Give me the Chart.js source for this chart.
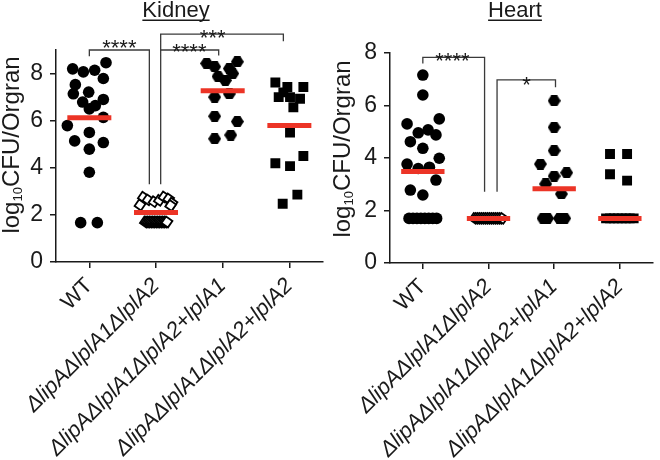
<!DOCTYPE html>
<html>
<head>
<meta charset="utf-8">
<script src="https://cdn.jsdelivr.net/npm/chart.js@4"></script>
<style>
    html, body { margin: 0; padding: 0; background: #fff; }
    #wrap { position: relative; width: 660px; height: 460px; }
    canvas { position: absolute; top: 0; }
    #kidneyChart { left: 0; }
    #heartChart { left: 330px; }
</style>
</head>
<body>
<div id="wrap">
    <canvas id="kidneyChart" width="330" height="460"></canvas>
    <canvas id="heartChart" width="330" height="460"></canvas>
</div>
<script>
// Strains on the x axis
const categories = ['WT', 'ΔlipAΔlplA1ΔlplA2', 'ΔlipAΔlplA1ΔlplA2+lplA1', 'ΔlipAΔlplA1ΔlplA2+lplA2'];
const yTicks = [0, 2, 4, 6, 8];

// Kidney, log10 CFU per organ (jitter = horizontal spread inside a column)
const kidneyWT = [8.2, 8.07, 8.14, 8.46, 7.79, 7.53, 7.21, 7.14, 6.79, 6.9, 6.64, 6.5, 6.14, 5.79, 5.5, 5.14, 5.07, 4.79, 3.81, 1.67, 1.67];
const kidneyWTJitter = [-0.25, -0.09, 0.08, 0.25, 0.21, -0.21, -0.01, -0.24, -0.1, 0.21, 0.09, 0, 0.21, -0.33, 0, -0.22, 0.21, 0, 0, -0.13, 0.12];
const kidneyMutant = [1.7, 1.7, 1.7, 1.7, 1.7, 1.7, 1.7, 1.7, 1.7, 1.7, 1.7, 1.7, 1.7, 1.7, 2.75, 2.64, 2.56, 2.62, 2.76, 2.68, 2.5, 2.42, 2.4];
const kidneyMutantJitter = [-0.16, -0.135, -0.11, -0.085, -0.06, -0.035, -0.01, 0.015, 0.04, 0.065, 0.09, 0.115, 0.14, 0.165, -0.19, -0.12, -0.03, 0.05, 0.12, 0.19, 0.24, -0.24, 0.22];
const kidneyComp1 = [8.43, 8.29, 8.21, 8.5, 8.0, 7.88, 7.71, 7.0, 7.14, 6.19, 5.96, 5.23, 5.39];
const kidneyComp1Jitter = [-0.24, -0.12, 0.1, 0.22, 0.15, -0.07, 0.04, -0.12, 0.1, -0.12, 0.22, -0.12, 0.12];
const kidneyComp2 = [7.62, 7.43, 7.43, 7.2, 7.0, 7.0, 6.93, 6.57, 5.5, 4.19, 4.07, 4.5, 2.86, 2.47];
const kidneyComp2Jitter = [-0.21, -0.03, 0.21, -0.09, -0.16, 0.01, 0.16, 0.06, 0.01, -0.21, 0.01, 0.21, 0.12, -0.1];
const kidneyMeans = [6.12, 2.1, 7.27, 5.8];

// Heart, log10 CFU per organ
const heartWT = [7.16, 6.4, 5.3, 5.49, 4.96, 5.07, 4.88, 4.62, 4.37, 3.99, 3.77, 3.6, 3.65, 3.16, 2.78, 2.59, 1.7, 1.7, 1.7, 1.7, 1.7, 1.7, 1.7, 1.7];
const heartWTJitter = [0, 0, -0.24, 0.25, -0.07, 0.08, 0.2, -0.19, 0, 0.25, -0.24, -0.07, 0.1, 0.2, -0.19, 0, -0.21, -0.15, -0.09, -0.03, 0.03, 0.09, 0.15, 0.21];
const heartMutant = [1.7, 1.7, 1.7, 1.7, 1.7, 1.7, 1.7, 1.7, 1.7, 1.7, 1.7, 1.7, 1.7, 1.7, 1.7];
const heartMutantJitter = [-0.21, -0.18, -0.15, -0.12, -0.09, -0.06, -0.03, 0, 0.03, 0.06, 0.09, 0.12, 0.15, 0.18, 0.21];
const heartComp1 = [6.18, 5.17, 4.28, 3.77, 3.31, 3.44, 3.01, 2.63, 1.7, 1.7, 1.7, 1.7];
const heartComp1Jitter = [0, 0, 0, -0.21, 0, 0.19, -0.13, 0.11, -0.17, -0.1, 0.08, 0.16];
const heartComp2 = [4.15, 4.15, 3.38, 3.14, 1.7, 1.7, 1.7, 1.7, 1.7, 1.7, 1.7, 1.7];
const heartComp2Jitter = [-0.15, 0.11, -0.15, 0.11, -0.21, -0.15, -0.09, -0.03, 0.03, 0.09, 0.15, 0.21];
const heartMeans = [3.49, 1.7, 2.83, 1.7];

// Significance brackets (x in category units, y in log10 units)
const kidneyBrackets = [
    { from: 0, to: 0.9, top: 9.0, fromEnd: 8.73, toEnd: 3.3, label: '****', labelAt: 0.45, dy: 4.8 },
    { from: 1.07, to: 1.94, top: 9.0, fromEnd: 3.3, toEnd: 8.77, label: '****', labelAt: 1.5, dy: 8.8 },
    { from: 1.07, to: 2.91, top: 9.67, fromEnd: 9.0, toEnd: 9.37, label: '***', labelAt: 1.85, dy: 10.3 }
];
const heartBrackets = [
    { from: 0, to: 0.94, top: 7.83, fromEnd: 7.6, toEnd: 2.71, label: '****', labelAt: 0.45, dy: 10.6 },
    { from: 1.13, to: 2.02, top: 6.98, fromEnd: 2.71, toEnd: 6.7, label: '*', labelAt: 1.58, dy: 11.8 }
];

const FONT = '"Liberation Sans", Arial, Helvetica, sans-serif';
const RED = '#ec3426';
const INK = '#1a1a1a';
const MEAN_HALF = 0.33;

function hexagon(w, h) {
    const c = document.createElement('canvas');
    c.width = w;
    c.height = h;
    const g = c.getContext('2d');
    g.beginPath();
    g.moveTo(0, h / 2);
    g.lineTo(w * 0.27, 0);
    g.lineTo(w * 0.73, 0);
    g.lineTo(w, h / 2);
    g.lineTo(w * 0.73, h);
    g.lineTo(w * 0.27, h);
    g.closePath();
    g.fillStyle = '#000';
    g.fill();
    return c;
}

const markerStyles = [
    { pointStyle: 'circle', pointRadius: 5.8, pointBackgroundColor: '#000', pointBorderWidth: 0 },
    { pointStyle: 'rect', pointRotation: 35, pointRadius: 5.5, pointBackgroundColor: '#fff', pointBorderColor: '#000', pointBorderWidth: 1.8 },
    { pointStyle: hexagon(13, 11), pointRadius: 6 },
    { pointStyle: 'rect', pointRadius: 7, pointBackgroundColor: '#000', pointBorderWidth: 0 }
];

// titles, y axis title with subscript, brackets and stars
const panelText = {
    id: 'panelText',
    afterDraw(chart, args, opts) {
        const ctx = chart.ctx;
        const xs = chart.scales.x, ys = chart.scales.y;
        ctx.save();
        ctx.fillStyle = INK;

        ctx.font = '22px ' + FONT;
        ctx.textAlign = 'center';
        ctx.textBaseline = 'alphabetic';
        ctx.fillText(opts.title, opts.titleX, 17);
        const tw = ctx.measureText(opts.title).width;
        ctx.fillRect(opts.titleX - tw / 2, 19.5, tw, 1.5);

        ctx.save();
        ctx.translate(opts.yTitleX, opts.yTitleY);
        ctx.rotate(-Math.PI / 2);
        ctx.textAlign = 'left';
        const big = '24px ' + FONT, small = '13px ' + FONT;
        ctx.font = big;
        const w1 = ctx.measureText('log').width;
        const w3 = ctx.measureText('CFU/Orgran').width;
        ctx.font = small;
        const w2 = ctx.measureText('10').width;
        let sx = -(w1 + w2 + w3) / 2;
        ctx.font = big;
        ctx.fillText('log', sx, 0);
        sx += w1;
        ctx.font = small;
        ctx.fillText('10', sx, 3);
        sx += w2;
        ctx.font = big;
        ctx.fillText('CFU/Orgran', sx, 0);
        ctx.restore();

        ctx.strokeStyle = '#3a3a3a';
        ctx.lineWidth = 1.3;
        ctx.font = '22px ' + FONT;
        ctx.textAlign = 'center';
        opts.brackets.forEach(b => {
            const x1 = xs.getPixelForValue(b.from);
            const x2 = xs.getPixelForValue(b.to);
            const yt = ys.getPixelForValue(b.top);
            ctx.beginPath();
            ctx.moveTo(x1, ys.getPixelForValue(b.fromEnd));
            ctx.lineTo(x1, yt);
            ctx.lineTo(x2, yt);
            ctx.lineTo(x2, ys.getPixelForValue(b.toEnd));
            ctx.stroke();
            ctx.fillText(b.label, xs.getPixelForValue(b.labelAt), yt + b.dy);
        });
        ctx.restore();
    }
};

function meanLine(i, m) {
    return {
        type: 'line',
        data: [{ x: i - MEAN_HALF, y: m }, { x: i + MEAN_HALF, y: m }],
        borderColor: RED,
        borderWidth: 5,
        borderCapStyle: 'butt',
        pointRadius: 0,
        order: 0
    };
}

function group(values, jitter, i) {
    return {
        type: 'scatter',
        data: values.map((v, k) => ({ x: i + jitter[k], y: v })),
        ...markerStyles[i],
        order: 1
    };
}

function axisStyle() {
    return {
        grid: { display: true, drawOnChartArea: false, drawTicks: true, tickLength: 6, color: INK, lineWidth: 1.5 },
        border: { display: true, color: INK, width: 1.5 }
    };
}

function makePanel(id, groups, jitters, means, cfg) {
    const datasets = [];
    means.forEach((m, i) => datasets.push(meanLine(i, m)));
    groups.forEach((g, i) => datasets.push(group(g, jitters[i], i)));

    return new Chart(document.getElementById(id), {
        type: 'scatter',
        data: { datasets },
        options: {
            responsive: false,
            animation: false,
            events: [],
            layout: { padding: { top: cfg.top, right: cfg.right, left: 0, bottom: 0 } },
            plugins: {
                legend: { display: false },
                tooltip: { enabled: false },
                panelText: cfg.text
            },
            scales: {
                x: {
                    type: 'linear',
                    min: -0.5,
                    max: 3.5,
                    afterBuildTicks: s => { s.ticks = categories.map((c, i) => ({ value: i })); },
                    afterFit: s => { s.height = cfg.xHeight; },
                    ticks: {
                        autoSkip: false,
                        minRotation: 45,
                        maxRotation: 45,
                        padding: 5,
                        color: INK,
                        callback: v => categories[v],
                        font: c => ({ family: FONT, size: 22, style: c.index === 0 ? 'normal' : 'italic' })
                    },
                    ...axisStyle()
                },
                y: {
                    type: 'linear',
                    min: 0,
                    max: cfg.yMax,
                    afterBuildTicks: s => { s.ticks = yTicks.map(v => ({ value: v })); },
                    afterFit: s => { s.width = cfg.yWidth; },
                    ticks: { padding: 7, color: INK, font: { family: FONT, size: 23 } },
                    ...axisStyle()
                }
            }
        },
        plugins: [panelText]
    });
}

makePanel('kidneyChart',
    [kidneyWT, kidneyMutant, kidneyComp1, kidneyComp2],
    [kidneyWTJitter, kidneyMutantJitter, kidneyComp1Jitter, kidneyComp2Jitter],
    kidneyMeans,
    {
        top: 50, right: 7, xHeight: 198, yWidth: 56, yMax: 9,
        text: { title: 'Kidney', titleX: 176, yTitleX: 19, yTitleY: 145, brackets: kidneyBrackets }
    });

makePanel('heartChart',
    [heartWT, heartMutant, heartComp1, heartComp2],
    [heartWTJitter, heartMutantJitter, heartComp1Jitter, heartComp2Jitter],
    heartMeans,
    {
        top: 53, right: 5, xHeight: 197, yWidth: 60, yMax: 8,
        text: { title: 'Heart', titleX: 185, yTitleX: 20, yTitleY: 149, brackets: heartBrackets }
    });
</script>
</body>
</html>
